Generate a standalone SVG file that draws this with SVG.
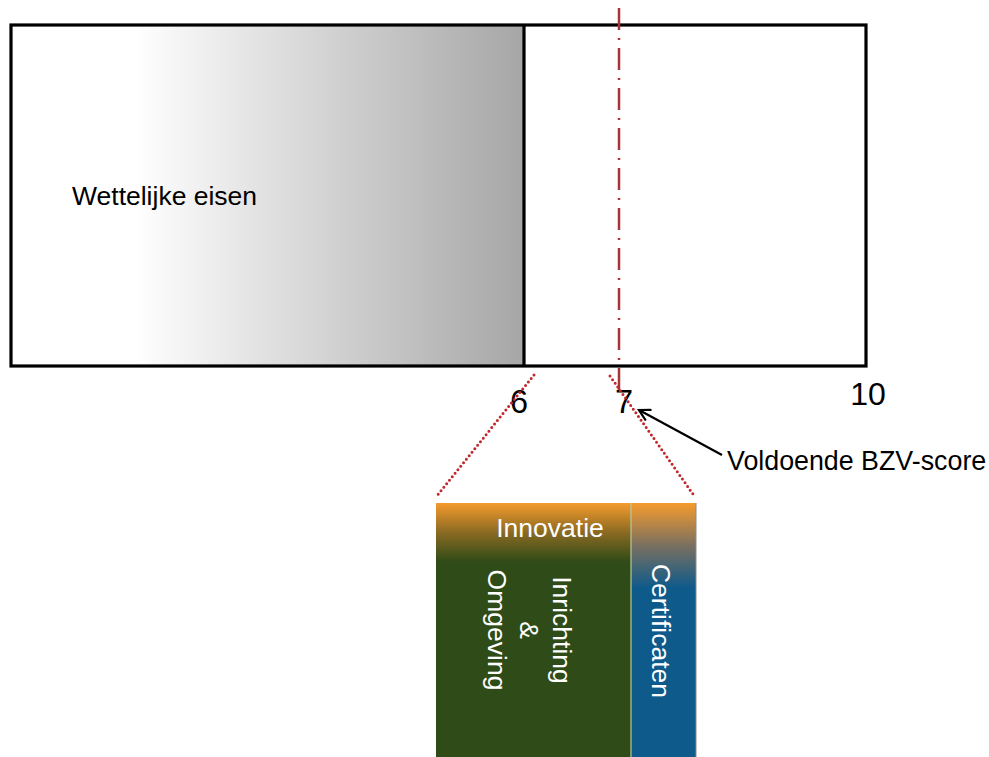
<svg xmlns="http://www.w3.org/2000/svg" width="989" height="757" viewBox="0 0 989 757">
<style>
.lbl{font-family:"Liberation Sans",Arial,sans-serif;fill:#000;}
.wl{font-family:"Liberation Sans",Arial,sans-serif;fill:#fff;font-size:26.5px;}
.dot{stroke:#c0282c;stroke-width:3;stroke-dasharray:0 4.5;stroke-linecap:round;fill:none;}
</style>
<defs>
<linearGradient id="gray" gradientUnits="userSpaceOnUse" x1="11" y1="0" x2="524" y2="0">
<stop offset="0" stop-color="#ffffff"/>
<stop offset="0.24" stop-color="#ffffff"/>
<stop offset="1" stop-color="#a6a6a6"/>
</linearGradient>
<linearGradient id="grn" gradientUnits="userSpaceOnUse" x1="0" y1="503" x2="0" y2="562">
<stop offset="0" stop-color="#f59b2d"/>
<stop offset="0.5" stop-color="#8a6a22"/>
<stop offset="1" stop-color="#2f4b17"/>
</linearGradient>
<linearGradient id="blu" gradientUnits="userSpaceOnUse" x1="0" y1="503" x2="0" y2="588">
<stop offset="0" stop-color="#f59b2d"/>
<stop offset="0.5" stop-color="#7a7060"/>
<stop offset="1" stop-color="#0e5a8b"/>
</linearGradient>
<marker id="arr" markerWidth="14" markerHeight="14" refX="12" refY="7" orient="auto" markerUnits="userSpaceOnUse">
<path d="M1,1 L12,7 L1,13" fill="none" stroke="#000" stroke-width="2.2"/>
</marker>
</defs>
<rect width="989" height="757" fill="#fff"/>
<g id="scale-bar">
<rect x="11" y="25" width="513" height="341" fill="url(#gray)"/>
<rect x="11" y="25" width="855" height="341" fill="none" stroke="#000" stroke-width="3.2"/>
<line x1="524" y1="25" x2="524" y2="366" stroke="#000" stroke-width="3.2"/>
<text class="lbl" x="72" y="205" font-size="26.5">Wettelijke eisen</text>
</g>
<g id="ticks">
<text class="lbl" x="519" y="413" font-size="32.5" text-anchor="middle">6</text>
<text class="lbl" x="624" y="413" font-size="32.5" text-anchor="middle">7</text>
<text class="lbl" x="868" y="405" font-size="32" text-anchor="middle">10</text>
</g>
<g id="bzv-label">
<text class="lbl" x="727" y="470" font-size="26.8">Voldoende BZV-score</text>
</g>
<g id="detail-box">
<rect x="436" y="503" width="195" height="254" fill="url(#grn)"/>
<rect x="631" y="503" width="65" height="254" fill="url(#blu)"/>
<line x1="631" y1="503" x2="631" y2="757" stroke="#b8c8a0" stroke-width="1.2"/>
<line x1="696" y1="503" x2="696" y2="757" stroke="#8a8a8a" stroke-width="1"/>
<text class="wl" x="550" y="537" text-anchor="middle">Innovatie</text>
<text class="wl" text-anchor="middle" transform="translate(553,630) rotate(90)">Inrichting</text>
<text class="wl" text-anchor="middle" transform="translate(520,630) rotate(90)">&amp;</text>
<text class="wl" text-anchor="middle" transform="translate(488,630) rotate(90)">Omgeving</text>
<text class="wl" text-anchor="middle" transform="translate(652,631) rotate(90)">Certificaten</text>
</g>
<g id="connectors">
<line x1="619" y1="8" x2="619" y2="395" stroke="#a8343a" stroke-width="2.5" stroke-dasharray="22 8 2 8"/>
<line class="dot" x1="534" y1="375" x2="436" y2="497"/>
<line class="dot" x1="610" y1="376" x2="695" y2="497"/>
<line x1="722" y1="455" x2="639" y2="410" stroke="#000" stroke-width="2.2" marker-end="url(#arr)"/>
</g>
</svg>
